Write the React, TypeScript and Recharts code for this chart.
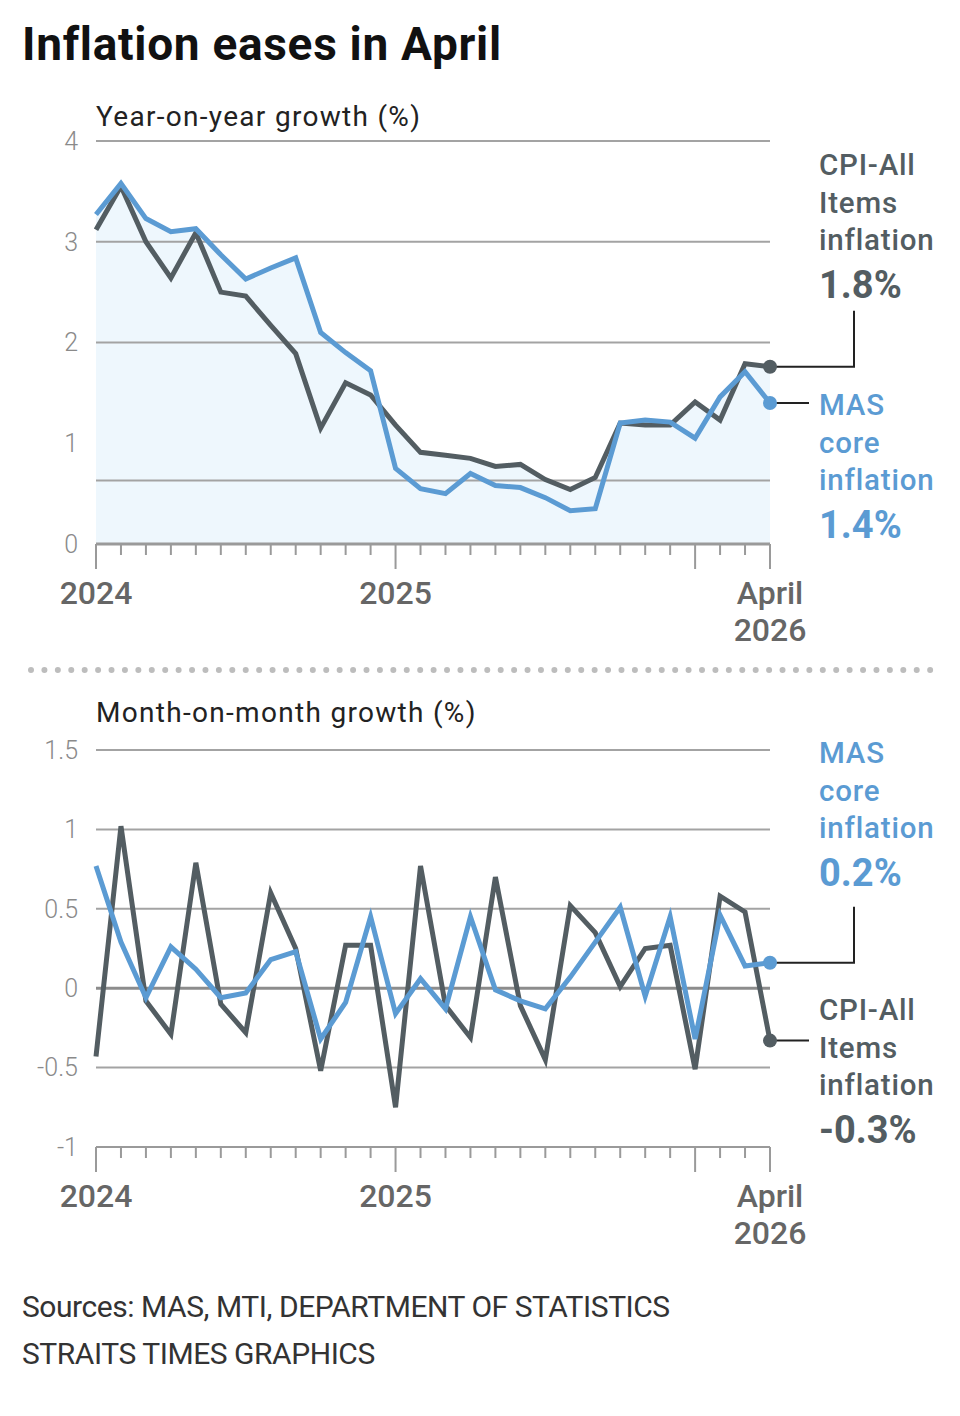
import React from "react"
import { ComposedChart, Line, Area, XAxis, YAxis, ReferenceLine } from "recharts"

// Jan 2024 .. Apr 2026, one entry per month
const months = Array.from({ length: 28 }, (_, i) => i)

const yoyCpi = [3.12, 3.55, 3.0, 2.64, 3.09, 2.5, 2.46, 2.17, 1.89, 1.15, 1.6, 1.48, 1.18, 0.91, 0.88, 0.85, 0.77, 0.79, 0.64, 0.54, 0.66, 1.2, 1.18, 1.18, 1.41, 1.23, 1.79, 1.76]
const yoyCore = [3.27, 3.58, 3.23, 3.1, 3.13, 2.87, 2.63, 2.74, 2.84, 2.1, 1.9, 1.72, 0.75, 0.55, 0.5, 0.7, 0.58, 0.56, 0.46, 0.33, 0.35, 1.2, 1.23, 1.21, 1.05, 1.46, 1.71, 1.4]

const momCpi = [-0.43, 1.02, -0.08, -0.29, 0.79, -0.1, -0.28, 0.6, 0.25, -0.52, 0.27, 0.27, -0.75, 0.77, -0.11, -0.31, 0.7, -0.11, -0.45, 0.52, 0.35, 0.01, 0.25, 0.27, -0.51, 0.58, 0.48, -0.33]
const momCore = [0.77, 0.29, -0.06, 0.26, 0.12, -0.06, -0.03, 0.18, 0.23, -0.32, -0.09, 0.45, -0.16, 0.06, -0.13, 0.45, -0.01, -0.08, -0.13, 0.07, 0.29, 0.51, -0.05, 0.45, -0.32, 0.46, 0.14, 0.16]

const yoyTicks = [0, 1, 2, 3, 4]
const yoyGrid = [0.63, 2, 3, 4]
const momTicks = [-1, -0.5, 0, 0.5, 1, 1.5]
const momGrid = [-0.5, 0.5, 1, 1.5]

const majorTicks = [0, 12, 24, 27]
const tickLabels: Record<number, string[]> = { 0: ["2024"], 12: ["2025"], 27: ["April", "2026"] }

const yoyData = months.map((i) => ({ i, cpi: yoyCpi[i], core: yoyCore[i] }))
const momData = months.map((i) => ({ i, cpi: momCpi[i], core: momCore[i] }))

const GRAY = "#535d62"
const BLUE = "#5b9bd3"
const FONT = "Roboto, 'Noto Sans', sans-serif"
const last = months.length - 1

function MonthTick(props: any) {
  const { x, y, payload } = props
  const v = payload.value
  const long = majorTicks.includes(v)
  const lines = tickLabels[v] || []
  return (
    <g>
      <line x1={x} x2={x} y1={y} y2={y + (long ? 25 : 11)} stroke="#9a9a9a" strokeWidth={2} />
      {lines.map((t, k) => (
        <text key={k} x={x} y={y + 60 + k * 37} textAnchor="middle" fontSize={32} fontWeight={500} fill="#666" fontFamily={FONT}>
          {t}
        </text>
      ))}
    </g>
  )
}

// end dot plus the connector towards its annotation
function endDot(color: string, kind: "elbow" | "short") {
  return (props: any) => {
    const { cx, cy, index } = props
    if (index !== last) return <g key={index} />
    const d = kind === "elbow" ? `M ${cx} ${cy} H ${cx + 84} V ${cy - 56}` : `M ${cx} ${cy} H ${cx + 39}`
    return (
      <g key={index}>
        <path d={d} stroke="#222" strokeWidth={2} fill="none" />
        <circle cx={cx} cy={cy} r={7} fill={color} />
      </g>
    )
  }
}

function Note({ top, color, lines, value }: { top: number; color: string; lines: string[]; value: string }) {
  return (
    <div style={{ position: "absolute", left: 819, top, color, fontFamily: FONT }}>
      {lines.map((l) => (
        <div key={l} style={{ fontSize: 29.5, lineHeight: "37.5px", fontWeight: 500, letterSpacing: 0.8 }}>{l}</div>
      ))}
      <div style={{ fontSize: 38, lineHeight: "50px", fontWeight: 700 }}>{value}</div>
    </div>
  )
}

const yTick = { fontSize: 25, fill: "#8a8a8a", fontFamily: FONT, fontWeight: 300 }

export default function App() {
  return (
    <div style={{ position: "relative", width: 960, height: 1416, background: "#fff", fontFamily: FONT }}>
      <style>{"body{margin:0}"}</style>
      <div style={{ position: "absolute", left: 22, top: 21, fontSize: 46, lineHeight: 1, fontWeight: 700, color: "#111", letterSpacing: 0.7 }}>
        Inflation eases in April
      </div>
      <div style={{ position: "absolute", left: 96, top: 100, fontSize: 28, color: "#222", letterSpacing: 1.3 }}>Year-on-year growth (%)</div>

      <div style={{ position: "absolute", left: 0, top: 0 }}>
        <ComposedChart width={960} height={660} data={yoyData} margin={{ top: 141, right: 190, bottom: 86, left: 0 }}>
          <XAxis
            dataKey="i"
            type="number"
            domain={[0, last]}
            ticks={months}
            interval={0}
            tickSize={0}
            tickMargin={0}
            tick={<MonthTick />}
            axisLine={{ stroke: "#9a9a9a", strokeWidth: 3 }}
          />
          <YAxis
            domain={[0, 4]}
            ticks={yoyTicks}
            width={96}
            axisLine={false}
            tickLine={false}
            tickSize={0}
            tickMargin={18}
            tick={yTick}
          />
          {yoyGrid.map((v) => (
            <ReferenceLine key={v} y={v} stroke="#a3a3a3" strokeWidth={2} />
          ))}
          <Area dataKey="core" type="linear" stroke="none" fill="#eef7fd" fillOpacity={1} isAnimationActive={false} />
          <Area dataKey="cpi" type="linear" stroke="none" fill="#eef7fd" fillOpacity={1} isAnimationActive={false} />
          <Line dataKey="cpi" type="linear" stroke={GRAY} strokeWidth={5} dot={endDot(GRAY, "elbow")} activeDot={false} isAnimationActive={false} />
          <Line dataKey="core" type="linear" stroke={BLUE} strokeWidth={5} dot={endDot(BLUE, "short")} activeDot={false} isAnimationActive={false} />
        </ComposedChart>
      </div>

      <Note top={147} color={GRAY} lines={["CPI-All", "Items", "inflation"]} value="1.8%" />
      <Note top={387} color={BLUE} lines={["MAS", "core", "inflation"]} value="1.4%" />

      <svg style={{ position: "absolute", left: 0, top: 664 }} width={960} height={12}>
        <line x1={31} x2={933} y1={6} y2={6} stroke="#bdbdbd" strokeWidth={6} strokeDasharray="0 13.42" strokeLinecap="round" />
      </svg>

      <div style={{ position: "absolute", left: 96, top: 696, fontSize: 28, color: "#222", letterSpacing: 1.3 }}>Month-on-month growth (%)</div>

      <div style={{ position: "absolute", left: 0, top: 660 }}>
        <ComposedChart width={960} height={640} data={momData} margin={{ top: 90, right: 190, bottom: 123, left: 0 }}>
          <XAxis
            dataKey="i"
            type="number"
            domain={[0, last]}
            ticks={months}
            interval={0}
            tickSize={0}
            tickMargin={0}
            tick={<MonthTick />}
            axisLine={{ stroke: "#9a9a9a", strokeWidth: 2 }}
          />
          <YAxis
            domain={[-1, 1.5]}
            ticks={momTicks}
            width={96}
            axisLine={false}
            tickLine={false}
            tickSize={0}
            tickMargin={18}
            tick={yTick}
          />
          {momGrid.map((v) => (
            <ReferenceLine key={v} y={v} stroke="#a3a3a3" strokeWidth={2} />
          ))}
          <ReferenceLine y={0} stroke="#8c8c8c" strokeWidth={3} />
          <Line dataKey="cpi" type="linear" stroke={GRAY} strokeWidth={5} dot={endDot(GRAY, "short")} activeDot={false} isAnimationActive={false} />
          <Line dataKey="core" type="linear" stroke={BLUE} strokeWidth={5} dot={endDot(BLUE, "elbow")} activeDot={false} isAnimationActive={false} />
        </ComposedChart>
      </div>

      <Note top={735} color={BLUE} lines={["MAS", "core", "inflation"]} value="0.2%" />
      <Note top={992} color={GRAY} lines={["CPI-All", "Items", "inflation"]} value="-0.3%" />

      <div style={{ position: "absolute", left: 22, top: 1283, fontSize: 30, color: "#333", lineHeight: "47px", letterSpacing: -0.45 }}>
        <div>Sources: MAS, MTI, DEPARTMENT OF STATISTICS</div>
        <div>STRAITS TIMES GRAPHICS</div>
      </div>
    </div>
  )
}
